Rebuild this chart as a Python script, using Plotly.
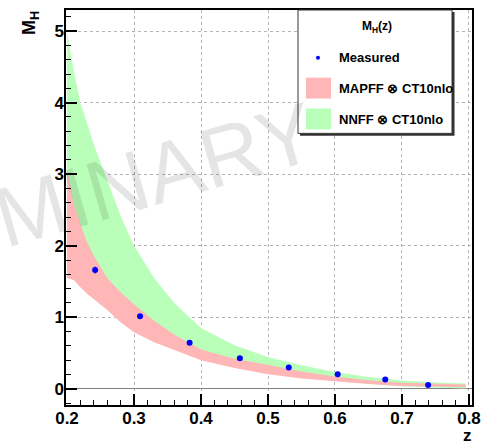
import plotly.graph_objects as go

# ---------------- data ----------------
z_meas = [0.242, 0.309, 0.383, 0.458, 0.531, 0.604, 0.675, 0.739]
mh_meas = [1.66, 1.015, 0.645, 0.427, 0.297, 0.204, 0.128, 0.051]
mh_err = [0.05, 0.02, 0.015, 0.012, 0.01, 0.01, 0.008, 0.006]

z_band = [0.2, 0.21, 0.22, 0.23, 0.24, 0.26, 0.28, 0.30, 0.33, 0.36,
          0.40, 0.45, 0.50, 0.55, 0.60, 0.65, 0.70, 0.75, 0.795]
mapff_hi = [3.05, 2.6, 2.3, 2.05, 1.86, 1.55, 1.35, 1.18, 0.95, 0.76,
            0.55, 0.42, 0.335, 0.24, 0.17, 0.12, 0.085, 0.07, 0.06]
mapff_lo = [1.55, 1.52, 1.42, 1.33, 1.25, 1.1, 0.93, 0.79, 0.65, 0.54,
            0.40, 0.29, 0.204, 0.145, 0.10, 0.065, 0.04, 0.028, 0.02]
nnff_hi = [5.0, 4.45, 4.0, 3.72, 3.42, 2.92, 2.42, 2.0, 1.55, 1.2,
           0.85, 0.61, 0.445, 0.33, 0.236, 0.165, 0.115, 0.088, 0.075]
nnff_lo = [2.6, 2.3, 2.0, 1.8, 1.6, 1.35, 1.15, 1.0, 0.8, 0.65,
           0.48, 0.35, 0.26, 0.18, 0.12, 0.07, 0.03, 0.015, 0.005]

legend_labels = ["Measured", "MAPFF \u2297 CT10nlo", "NNFF \u2297 CT10nlo"]

PINK = "rgb(255,182,182)"
GREEN = "rgb(185,255,185)"
FONT = "Liberation Sans, Arial, Helvetica, sans-serif"

W, H = 495, 443
ML, MR, MT, MB = 66, 23, 8, 38
PW, PH = W - ML - MR, H - MT - MB


def px(x):
    return (x - ML) / PW


def py(y):
    return (H - MB - y) / PH


fig = go.Figure()

fig.add_trace(go.Scatter(
    x=z_band + z_band[::-1], y=nnff_hi + nnff_lo[::-1],
    fill="toself", fillcolor=GREEN, mode="lines", line=dict(width=0),
    hoverinfo="skip", showlegend=False))
fig.add_trace(go.Scatter(
    x=z_band + z_band[::-1], y=mapff_hi + mapff_lo[::-1],
    fill="toself", fillcolor=PINK, mode="lines", line=dict(width=0),
    hoverinfo="skip", showlegend=False))
fig.add_trace(go.Scatter(
    x=z_meas, y=mh_meas, mode="markers",
    marker=dict(color="#0000ff", size=6),
    error_y=dict(type="data", array=mh_err, color="#333", thickness=1, width=0),
    showlegend=False))

tickfont = dict(family=FONT, size=17, color="black", weight="bold")

fig.update_layout(
    width=W, height=H,
    margin=dict(l=ML, r=MR, t=MT, b=MB, pad=0),
    paper_bgcolor="white", plot_bgcolor="white",
    showlegend=False,
    font=dict(family=FONT),
    xaxis=dict(range=[0.1985, 0.8045], tick0=0.2, dtick=0.1, tickformat=".1f",
               ticks="inside", ticklen=11, tickwidth=1.5, tickcolor="black",
               showgrid=True, gridcolor="#b4b4b4", griddash="dot", gridwidth=1,
               showline=True, linecolor="black", linewidth=1.5, mirror=True,
               zeroline=False, tickfont=tickfont, ticklabelstandoff=-3,
               minor=dict(ticks="inside", ticklen=5, dtick=0.02, tick0=0.2,
                          tickcolor="black", tickwidth=1, showgrid=False)),
    yaxis=dict(range=[-0.227, 5.296], tick0=0, dtick=1,
               ticks="inside", ticklen=11, tickwidth=1.5, tickcolor="black",
               showgrid=True, gridcolor="#b4b4b4", griddash="dot", gridwidth=1,
               showline=True, linecolor="black", linewidth=1.5, mirror=True,
               zeroline=True, zerolinecolor="#808080", zerolinewidth=1,
               tickfont=tickfont, ticklabelstandoff=-3,
               minor=dict(ticks="inside", ticklen=5, dtick=0.2, tick0=0,
                          tickcolor="black", tickwidth=1, showgrid=False)),
)

shapes = []
# legend shadow and box
shapes.append(dict(type="rect", xref="paper", yref="paper",
                   x0=px(300), x1=px(454.5), y0=py(134.5), y1=py(10),
                   fillcolor="#333", line=dict(width=0), layer="above"))
shapes.append(dict(type="rect", xref="paper", yref="paper",
                   x0=px(298), x1=px(452), y0=py(132), y1=py(8),
                   fillcolor="white", line=dict(color="#333", width=1), layer="above"))
# legend symbols
shapes.append(dict(type="circle", xref="paper", yref="paper",
                   x0=px(316), x1=px(320), y0=py(58), y1=py(54),
                   fillcolor="#0000ff", line=dict(width=0), layer="above"))
shapes.append(dict(type="rect", xref="paper", yref="paper",
                   x0=px(306), x1=px(331), y0=py(97), y1=py(76),
                   fillcolor=PINK, line=dict(width=0), layer="above"))
shapes.append(dict(type="rect", xref="paper", yref="paper",
                   x0=px(306), x1=px(331), y0=py(128), y1=py(107),
                   fillcolor=GREEN, line=dict(width=0), layer="above"))
fig.update_layout(shapes=shapes)

legfont = dict(family=FONT, size=13, color="black", weight="bold")
ann = []
# watermark
ann.append(dict(text="PRELIMINARY", xref="paper", yref="paper",
                x=px(37), y=py(208), xanchor="center", yanchor="middle",
                textangle=-16, showarrow=False,
                font=dict(family=FONT, size=85, color="rgba(0,0,0,0.10)")))
ann.append(dict(text="M<sub>H</sub>(z)", xref="paper", yref="paper",
                x=px(377), y=py(25), xanchor="center", yanchor="middle",
                showarrow=False, font=dict(family=FONT, size=12, color="black", weight="bold")))
for lab, yy in zip(legend_labels, [56, 87, 118]):
    ann.append(dict(text=lab, xref="paper", yref="paper",
                    x=px(337), y=py(yy), xanchor="left", yanchor="middle",
                    showarrow=False, font=legfont))
# axis titles
ann.append(dict(text="z", xref="paper", yref="paper",
                x=px(467), y=py(436), xanchor="center", yanchor="middle",
                showarrow=False, font=dict(family=FONT, size=17, color="black", weight="bold")))
ann.append(dict(text="M<sub>H</sub>", xref="paper", yref="paper",
                x=px(31), y=py(21), xanchor="center", yanchor="middle",
                textangle=-90, showarrow=False,
                font=dict(family=FONT, size=18, color="black", weight="bold")))
fig.update_layout(annotations=ann)

fig.write_html("out.html")
